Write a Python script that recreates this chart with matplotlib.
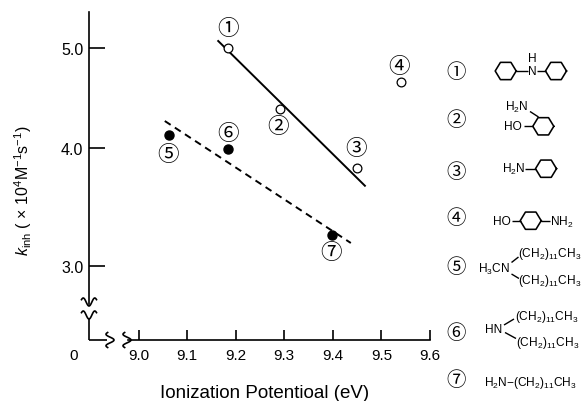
import numpy as np
import matplotlib
matplotlib.use("Agg")
import matplotlib.pyplot as plt

plt.rcParams['font.family'] = ['Liberation Sans', 'DejaVu Sans']
plt.rcParams['mathtext.fontset'] = 'custom'
plt.rcParams['mathtext.rm'] = 'Liberation Sans'
plt.rcParams['mathtext.it'] = 'Liberation Sans:italic'
plt.rcParams['mathtext.bf'] = 'Liberation Sans:bold'

# --- data ---
open_x = [9.185, 9.291, 9.449, 9.541]
open_y = [5.00, 4.39, 3.83, 4.66]
filled_x = [9.062, 9.185, 9.398]
filled_y = [4.13, 3.99, 3.26]
solid_x = [9.164, 9.466]
solid_y = [5.07, 3.68]
dash_x = [9.054, 9.437]
dash_y = [4.27, 3.195]
x_ticks = [9.0, 9.1, 9.2, 9.3, 9.4, 9.5, 9.6]
y_ticks = [3.0, 4.0, 5.0]
y_tick_labels = ['3.0', '4.0', '5.0']
circled = ['①', '②', '③', '④', '⑤', '⑥', '⑦']
W, H = 583, 402
CJK = ['Noto Sans CJK JP', 'DejaVu Sans']

fig = plt.figure(figsize=(W / 100, H / 100), dpi=100)
L, R, T, B = 89, 430, 13, 341
ax = fig.add_axes([L / W, 1 - B / H, (R - L) / W, (B - T) / H])

# y axis is nonlinear in the source: tick spacing 100 px and 118 px
yv = np.array([2.373, 3.0, 4.0, 5.0, 5.36])
yp = np.array([0.0, 74.0, 192.0, 292.0, 328.0])
ax.set_yscale('function', functions=(lambda v: np.interp(v, yv, yp, left=0, right=328),
                                     lambda p: np.interp(p, yp, yv)))
ax.set_ylim(2.373, 5.36)
ax.set_xlim(8.898, 9.6)

ax.plot(solid_x, solid_y, color='k', lw=1.4)
ax.plot(dash_x, dash_y, color='k', lw=1.4, dashes=(3.6, 2.6))
ax.plot(open_x, open_y, 'o', mfc='white', mec='k', mew=0.9, ms=6.3, ls='none', zorder=3)
ax.plot(filled_x, filled_y, 'o', color='k', ms=6.5, ls='none', zorder=3)

for s in ('top', 'right'):
    ax.spines[s].set_visible(False)
for s in ('left', 'bottom'):
    ax.spines[s].set_linewidth(1.2)
ax.spines['left'].set_bounds(np.interp(B - 305 + 0.0, yp, yv), 5.36)
ax.spines['bottom'].set_bounds(8.898 + (128 - L) / (R - L) * 0.702, 9.6)
ax.set_xticks(x_ticks)
ax.set_xticklabels([f'{v:.1f}' for v in x_ticks], fontsize=11)
ax.set_yticks(y_ticks)
ax.set_yticklabels(y_tick_labels, fontsize=11.5)
ax.minorticks_off()
ax.tick_params(axis='y', direction='in', length=11.5, width=1.2, pad=4)
ax.tick_params(axis='x', direction='in', length=7, width=1.2, pad=6)

# pixel-space overlay for annotations
ov = fig.add_axes([0, 0, 1, 1], facecolor='none')
ov.set_xlim(0, W)
ov.set_ylim(H, 0)
ov.axis('off')


def seg(x0, y0, x1, y1, lw=1.0):
    ov.plot([x0, x1], [y0, y1], color='k', lw=lw, solid_capstyle='butt')


def hexagon(cx, cy, r=10.5):
    a = np.deg2rad(np.arange(0, 361, 60))
    ov.plot(cx + r * np.cos(a), cy + r * 0.95 * np.sin(a), color='k', lw=1.15)


def txt(x, y, s, size=9, **kw):
    ov.text(x, y, s, fontsize=size, ha=kw.pop('ha', 'center'), va=kw.pop('va', 'center'), **kw)


def wiggle_v(cx, y0, sign=1):
    t = np.linspace(-1, 1, 40)
    ov.plot(cx + 7.5 * t, y0 + sign * 4 * np.cos(1.3 * np.pi * t), color='k', lw=1.2)


def wiggle_h(x0, cy, sign=1):
    t = np.linspace(-1, 1, 40)
    ov.plot(x0 + sign * 4 * np.cos(1.3 * np.pi * t), cy + 7.5 * t, color='k', lw=1.2)


# axis breaks
seg(L, 319, L, B, 1.2)
seg(L, B, 107, B, 1.2)
wiggle_v(L, 303)
wiggle_v(L, 316)
wiggle_h(110, 341)
wiggle_h(127, 341, 1)
txt(74, 356, '0', 11)

# axis titles
txt(265, 394, 'Ionization Potentioal (eV)', 13.5)
txt(23, 191, r'$\mathit{k}_{\mathrm{inh}}$ ( $\times$ 10$^{4}$M$^{-1}$s$^{-1}$)', 11.5, rotation=90)

# circled labels at points
pts = [(227.7, 29), (277.7, 127), (356, 149.3), (399, 66.7), (168, 154.7), (228.3, 133.7), (331, 253)]
for (x, y), c in zip(pts, circled):
    txt(x, y, c, 15.5, family=CJK)
rows = [72, 120, 172.7, 219, 268, 334, 381]
for y, c in zip(rows, circled):
    txt(455.7, y, c, 14, family=CJK)

S = 8.6
# 1
hexagon(505.7, 72); hexagon(556, 72)
txt(532, 72, 'N', S); txt(532, 58.5, 'H', S)
seg(516, 72, 527.5, 72); seg(536.5, 72, 546, 72)
# 2
hexagon(543.3, 127.3)
txt(517, 107.5, r'H$_2$N', S); txt(513, 127, 'HO', S)
seg(524, 127.3, 533, 127.3); seg(530, 112.5, 538.5, 118)
# 3
hexagon(546, 169.7)
txt(514, 169.7, r'H$_2$N', S); seg(525, 169.7, 535.5, 169.7)
# 4
hexagon(530.7, 221.7)
txt(502.3, 221.7, 'HO', S); txt(561.7, 222.5, r'NH$_2$', S)
seg(512, 221.7, 520.5, 221.7); seg(541, 221.7, 550, 221.7)
# 5
txt(494, 269.5, r'H$_3$CN', S)
txt(549.3, 253.5, r'(CH$_2$)$_{11}$CH$_3$', S); txt(549.3, 281, r'(CH$_2$)$_{11}$CH$_3$', S)
seg(511.5, 263.5, 518.5, 258); seg(511.5, 275, 519, 279.5)
# 6
txt(493.3, 330, 'HN', S)
txt(546.7, 317, r'(CH$_2$)$_{11}$CH$_3$', S); txt(547.3, 343, r'(CH$_2$)$_{11}$CH$_3$', S)
seg(504, 326, 514, 320); seg(505, 333.5, 516, 339.5)
# 7
txt(530, 383, r'H$_2$N$-$(CH$_2$)$_{11}$CH$_3$', S)

fig.savefig('out.png', dpi=100)
